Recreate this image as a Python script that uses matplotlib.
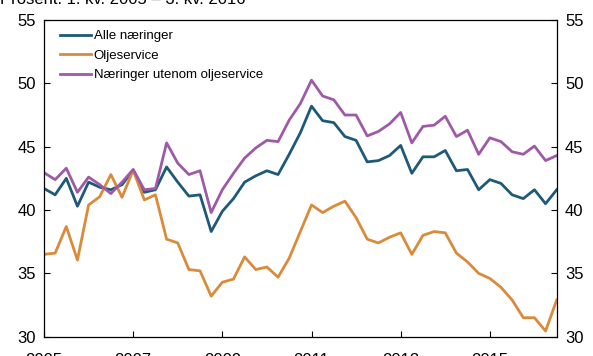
import numpy as np
import matplotlib.pyplot as plt

plt.rcParams['font.family'] = ['Liberation Sans', 'DejaVu Sans']

# Kvartaler 1. kv. 2005 - 3. kv. 2016
quarters = np.arange(47) / 4 + 2005

alle = [41.7, 41.2, 42.5, 40.3, 42.2, 41.8, 41.6, 42.0, 43.15, 41.4,
        41.6, 43.4, 42.2, 41.1, 41.2, 38.3, 39.9, 40.9, 42.2, 42.7,
        43.1, 42.8, 44.4, 46.1, 48.2, 47.05, 46.9, 45.8, 45.5, 43.8,
        43.9, 44.3, 45.1, 42.9, 44.2, 44.2, 44.7, 43.1, 43.2, 41.6,
        42.4, 42.1, 41.2, 40.9, 41.6, 40.5, 41.6]

olje = [36.5, 36.6, 38.7, 36.05, 40.4, 41.05, 42.8, 41.0, 43.15, 40.8,
        41.2, 37.7, 37.4, 35.3, 35.2, 33.2, 34.3, 34.55, 36.3, 35.3,
        35.5, 34.7, 36.2, 38.3, 40.4, 39.8, 40.3, 40.7, 39.4, 37.7,
        37.4, 37.85, 38.2, 36.5, 38.0, 38.3, 38.2, 36.6, 35.9, 35.0,
        34.6, 33.9, 32.9, 31.5, 31.5, 30.45, 32.9]

utenom = [42.95, 42.4, 43.3, 41.4, 42.6, 42.0, 41.3, 42.2, 43.2, 41.6,
          41.7, 45.3, 43.7, 42.8, 43.1, 39.8, 41.6, 42.9, 44.1, 44.9,
          45.5, 45.4, 47.1, 48.4, 50.25, 49.0, 48.7, 47.5, 47.5, 45.85,
          46.2, 46.8, 47.7, 45.3, 46.6, 46.7, 47.4, 45.8, 46.3, 44.4,
          45.7, 45.4, 44.6, 44.4, 45.05, 43.9, 44.3]

labels = ['Alle næringer', 'Oljeservice', 'Næringer utenom oljeservice']
colors = ['#1e5a78', '#d98b3a', '#9e5aa6']
year_ticks = [2005, 2007, 2009, 2011, 2013, 2015]

fig = plt.figure(figsize=(5.93, 3.56), dpi=100)
ax = fig.add_axes([0.0742, 0.0542, 0.8646, 0.8896])

for series, lab, col in zip([alle, olje, utenom], labels, colors):
    ax.plot(quarters, series, color=col, lw=2.0, label=lab)

ax.set_xlim(2005, 2016.5)
ax.set_ylim(30, 55)
ax.set_yticks(range(30, 56, 5))
ax.set_xticks(year_ticks)
ax.tick_params(direction='in', length=4, width=0.8, labelsize=12,
               right=True, labelright=True, pad=6)
ax.tick_params(axis='x', pad=12)
for s in ax.spines.values():
    s.set_linewidth(0.9)

ax.legend(loc='upper left', frameon=False, fontsize=9.5, handlelength=2.4,
          handletextpad=0.2, labelspacing=0.55, borderaxespad=0.0,
          bbox_to_anchor=(0.02, 0.985))

fig.text(0.0, 0.988, 'Prosent. 1. kv. 2005 – 3. kv. 2016', fontsize=12,
         va='baseline', ha='left')

fig.savefig('out.png', dpi=100)
